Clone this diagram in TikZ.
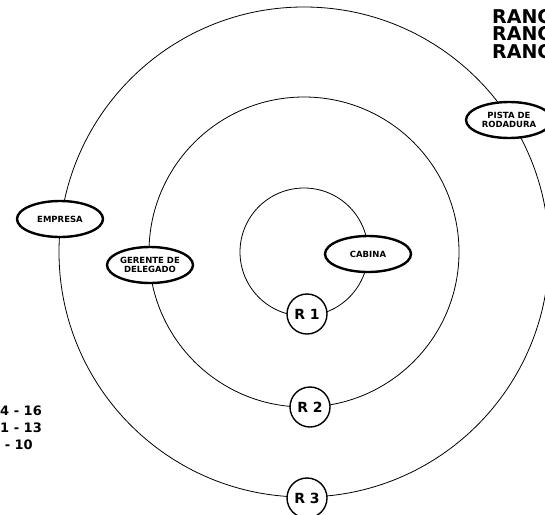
\documentclass[tikz,border=0pt]{standalone}
\usepackage{fontspec}
\setmainfont{DejaVu Sans}
\usetikzlibrary{shapes.geometric,positioning}

\begin{document}
\begin{tikzpicture}[x=1pt,y=-1pt,
    ring/.style={line width=0.8pt},
    actor/.style={draw,ellipse,line width=2.4pt,fill=white,minimum width=86pt,minimum height=36pt,inner sep=0pt,align=center,font=\fontsize{8.5}{9}\selectfont\bfseries},
    rank/.style={draw,circle,line width=1.4pt,fill=white,minimum size=40pt,inner sep=0pt,font=\fontsize{14}{15}\selectfont\bfseries},
    legend/.style={anchor=west,inner sep=0pt,font=\fontsize{13}{14}\selectfont\bfseries}]
  \useasboundingbox (0,0) rectangle (545,514);
  \clip (0,0) rectangle (545,514);
  % rings
  \coordinate (c) at (304,252);
  \draw[ring] (c) circle[radius=245pt];
  \draw[ring] (c) circle[radius=155pt];
  \draw[ring] (c) circle[radius=64pt];
  % actors on the rings
  \node[actor] (pista) at (509,120) {PISTA DE\\RODADURA};
  \node[actor] (empresa) at (60,219) {EMPRESA};
  \node[actor] (gerente) at (150,265) {GERENTE DE\\DELEGADO};
  \node[actor] (cabina) at (368,254) {CABINA};
  % ranks
  \node[rank] (r1) at (307,314) {R 1};
  \node[rank] (r2) at (310,407) {R 2};
  \node[rank] (r3) at (307,498) {R 3};
  % legends
  \node[anchor=north west,inner sep=0pt,align=left,font=\fontsize{19}{17.5}\selectfont\bfseries] (rangos) at (492,9) {RANGO 1\\RANGO 2\\RANGO 3};
  \node[legend] (l1) at (-9,411) {14 - 16};
  \node[legend] (l2) at (-9,428) {11 - 13};
  \node[legend] (l3) at (-9,445) {8 - 10};
\end{tikzpicture}
\end{document}
